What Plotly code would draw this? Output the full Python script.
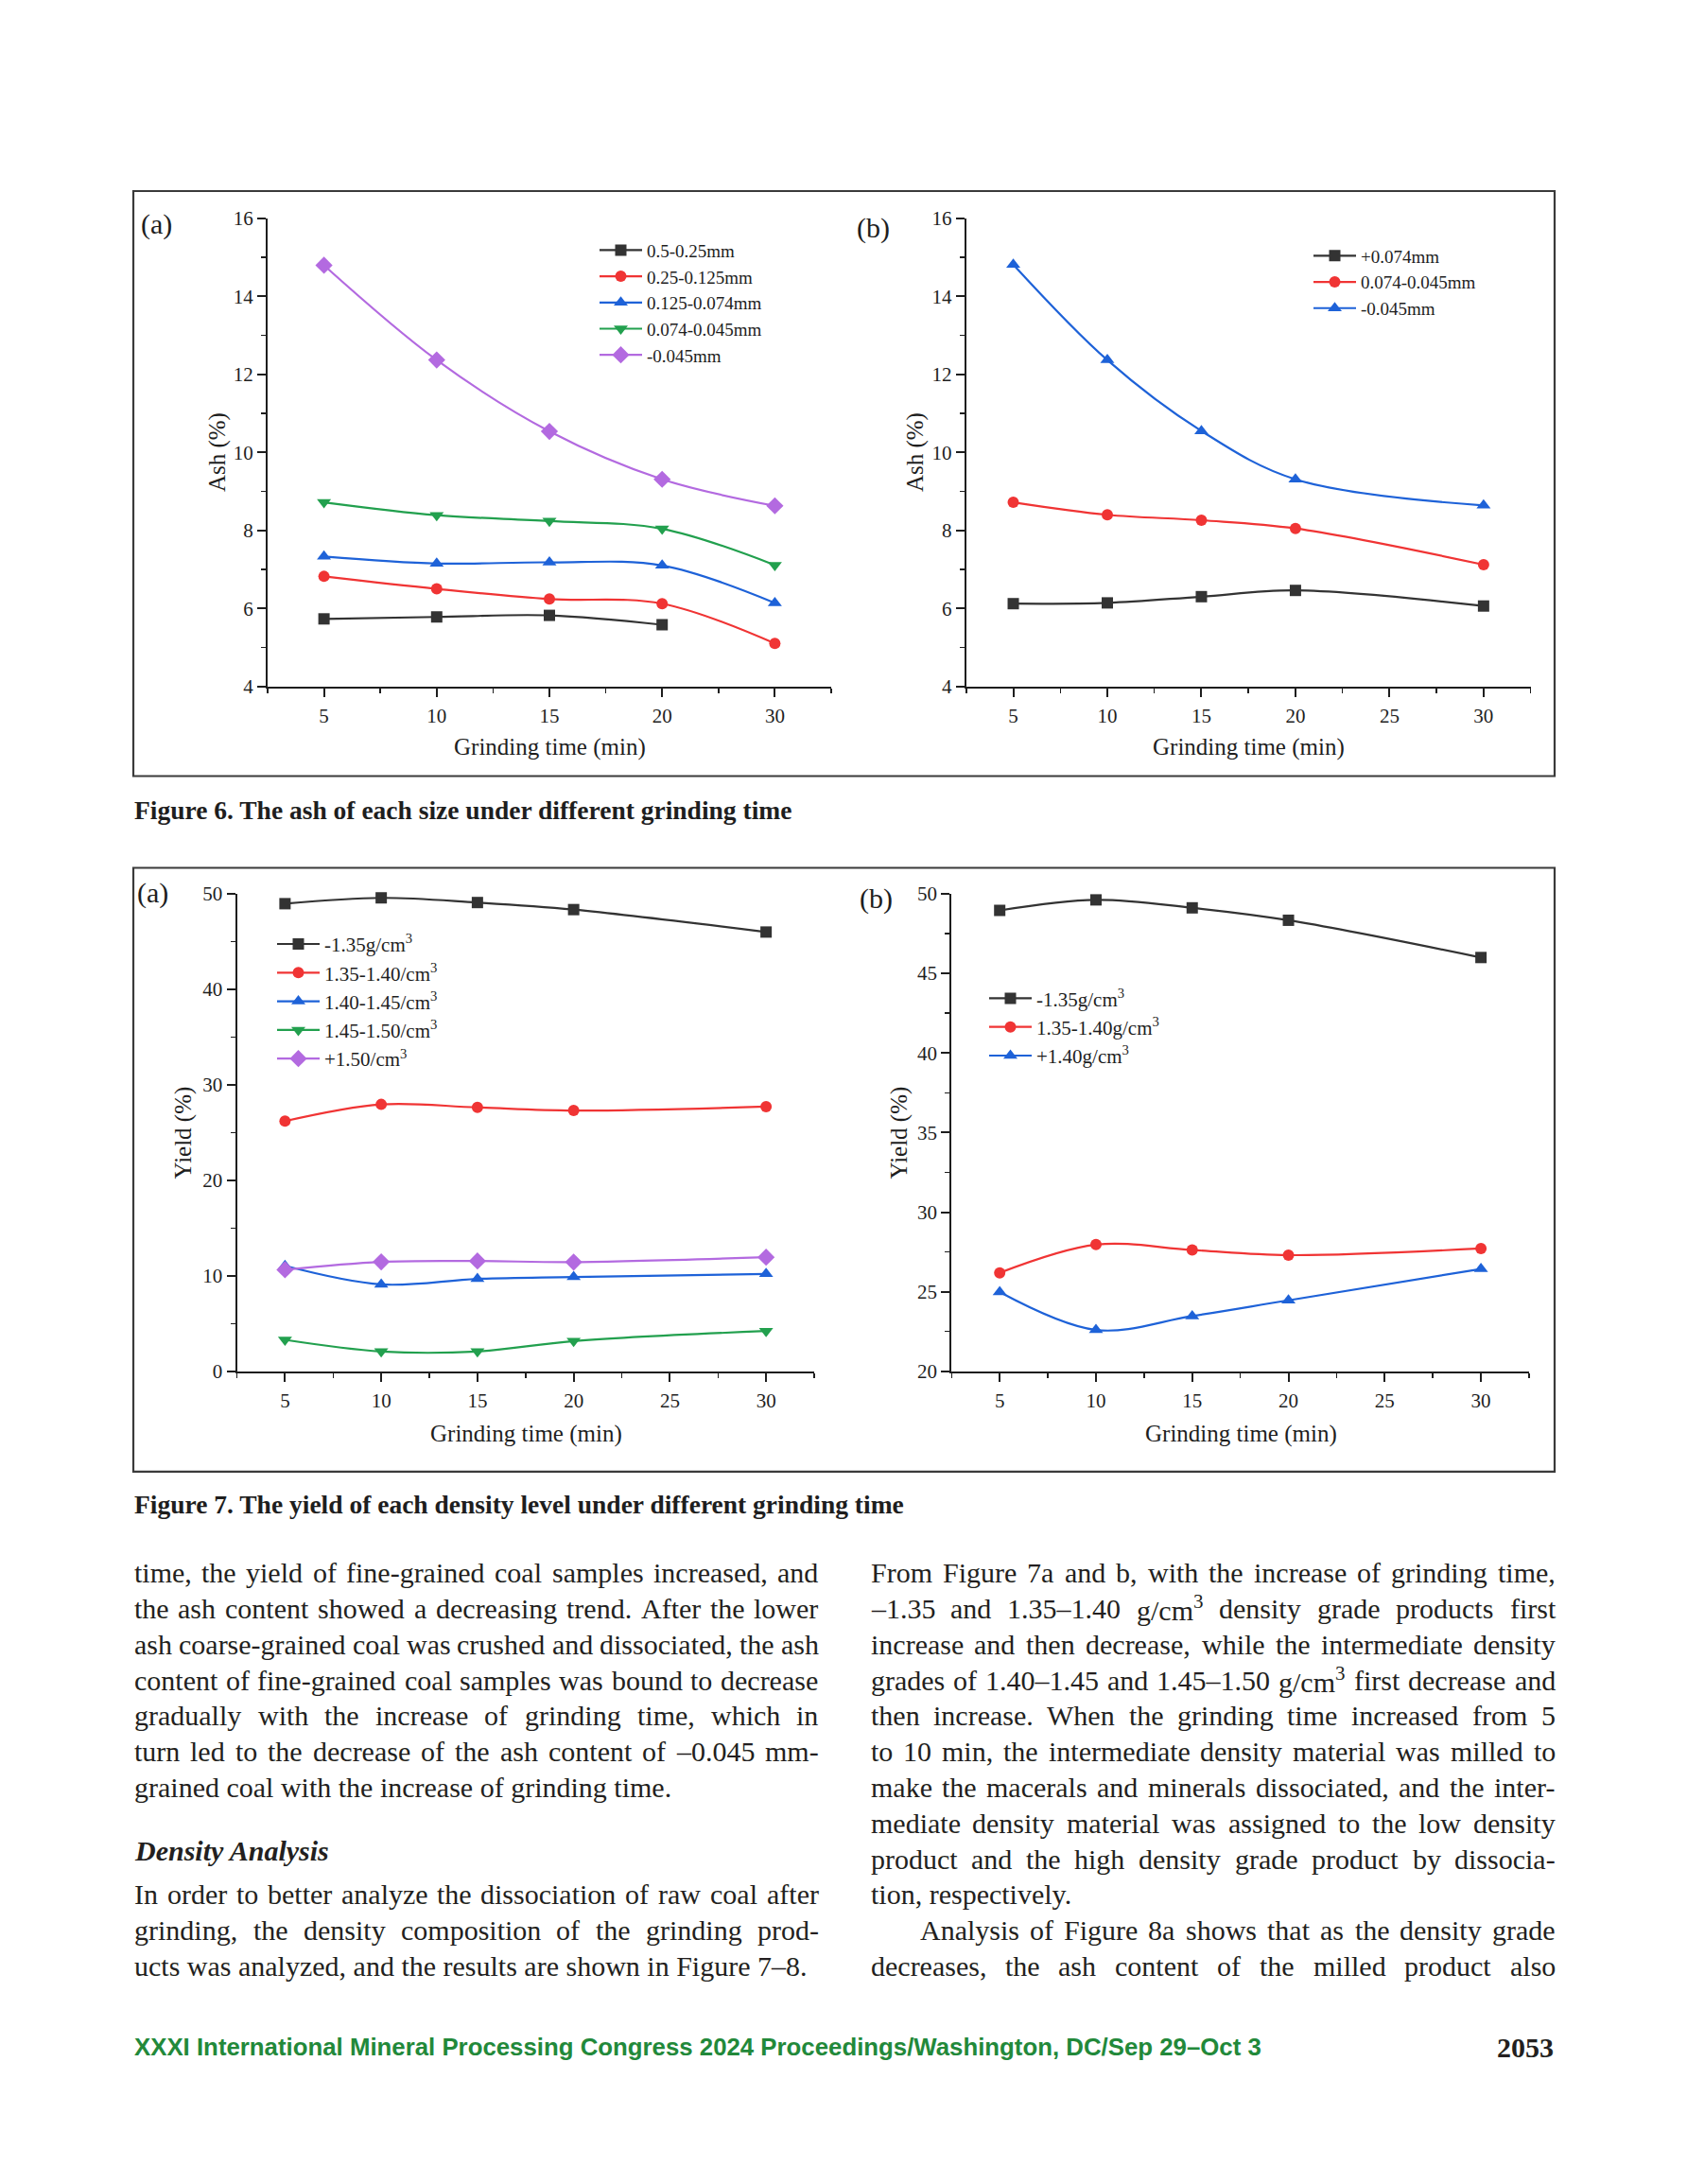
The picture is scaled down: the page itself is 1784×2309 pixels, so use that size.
import plotly.graph_objects as go

W, H = 1784, 2309

# ---------------- data ----------------
time_cat = ['5', '10', '15', '20', '30']      # Fig 6(a) equally spaced categories
time_min = [5, 10, 15, 20, 30]

ash_a_names = ['0.5-0.25mm', '0.25-0.125mm', '0.125-0.074mm', '0.074-0.045mm', '-0.045mm']
ash_a_0500_0250 = [5.73, 5.78, 5.82, 5.58, None]
ash_a_0250_0125 = [6.82, 6.50, 6.24, 6.12, 5.10]
ash_a_0125_0074 = [7.33, 7.15, 7.18, 7.10, 6.14]
ash_a_0074_0045 = [8.72, 8.39, 8.24, 8.04, 7.11]
ash_a_minus0045 = [14.80, 12.37, 10.54, 9.31, 8.63]

ash_b_names = ['+0.074mm', '0.074-0.045mm', '-0.045mm']
ash_b_plus0074 = [6.12, 6.14, 6.30, 6.46, 6.06]
ash_b_0074_0045 = [8.72, 8.40, 8.26, 8.05, 7.12]
ash_b_minus0045 = [14.82, 12.37, 10.55, 9.31, 8.64]

yld_a_names = ['-1.35g/cm<sup>3</sup>', '1.35-1.40/cm<sup>3</sup>', '1.40-1.45/cm<sup>3</sup>',
               '1.45-1.50/cm<sup>3</sup>', '+1.50/cm<sup>3</sup>']
yld_a_m135 = [48.97, 49.58, 49.09, 48.35, 46.0]
yld_a_135_140 = [26.2, 27.95, 27.63, 27.31, 27.72]
yld_a_140_145 = [11.05, 9.1, 9.68, 9.88, 10.2]
yld_a_145_150 = [3.3, 2.08, 2.08, 3.17, 4.22]
yld_a_p150 = [10.64, 11.46, 11.55, 11.44, 11.95]

yld_b_names = ['-1.35g/cm<sup>3</sup>', '1.35-1.40g/cm<sup>3</sup>', '+1.40g/cm<sup>3</sup>']
yld_b_m135 = [48.96, 49.62, 49.12, 48.34, 46.0]
yld_b_135_140 = [26.19, 27.96, 27.62, 27.30, 27.72]
yld_b_p140 = [24.98, 22.6, 23.47, 24.46, 26.43]

# ---------------- styles ----------------
COLORS = ['#333333', '#f03434', '#1e62d8', '#22a04e', '#b36ae0']
SYMBOLS = ['square', 'circle', 'triangle-up', 'triangle-down', 'diamond']
MSIZE = [12, 12, 13, 13, 14]
SERIF = 'Liberation Serif, Times New Roman, serif'
INK = '#1e1e1e'


def px(p):
    return p / W


def py(p):
    return 1 - p / H


fig = go.Figure()


def add_series(xs, ys, name, k, xa, ya, leg):
    fig.add_trace(go.Scatter(
        x=xs, y=ys, name=name, mode='lines+markers',
        line=dict(color=COLORS[k], width=2.2, shape='spline', smoothing=1.0),
        marker=dict(symbol=SYMBOLS[k], size=MSIZE[k], color=COLORS[k], line=dict(width=0)),
        xaxis=xa, yaxis=ya, legend=leg, cliponaxis=False, connectgaps=False,
        hoverinfo='skip'))


idx = list(range(len(time_cat)))
for k, ys in enumerate([ash_a_0500_0250, ash_a_0250_0125, ash_a_0125_0074,
                        ash_a_0074_0045, ash_a_minus0045]):
    add_series(idx, ys, ash_a_names[k], k, 'x', 'y', 'legend')

for k, ys in enumerate([ash_b_plus0074, ash_b_0074_0045, ash_b_minus0045]):
    add_series(time_min, ys, ash_b_names[k], k, 'x2', 'y2', 'legend2')

for k, ys in enumerate([yld_a_m135, yld_a_135_140, yld_a_140_145, yld_a_145_150, yld_a_p150]):
    add_series(time_min, ys, yld_a_names[k], k, 'x3', 'y3', 'legend3')

for k, ys in enumerate([yld_b_m135, yld_b_135_140, yld_b_p140]):
    add_series(time_min, ys, yld_b_names[k], k, 'x4', 'y4', 'legend4')


def axis_common():
    return dict(showline=True, linecolor=INK, linewidth=2, ticks='outside', ticklen=9,
                tickwidth=2, tickcolor=INK, showgrid=False, zeroline=False, mirror=False,
                tickfont=dict(family=SERIF, size=21, color=INK), fixedrange=True)


def xaxis(d0, d1, anchor, **kw):
    a = axis_common()
    a.update(domain=[px(d0), px(d1)], anchor=anchor, ticklabelstandoff=2)
    a.update(kw)
    return a


def yaxis(top, bot, anchor, **kw):
    a = axis_common()
    a.update(domain=[py(bot), py(top)], anchor=anchor)
    a.update(kw)
    return a


minor_x = dict(ticks='outside', ticklen=5, tickwidth=1.5, tickcolor=INK, dtick=2.5, tick0=2.5)

fig.update_layout(
    xaxis=xaxis(283, 879, 'y', range=[-0.5, 4.5], tickmode='array', tickvals=idx, ticktext=time_cat,
                minor=dict(ticks='outside', ticklen=5, tickwidth=1.5, tickcolor=INK,
                           tickmode='array', tickvals=[-0.5, 0.5, 1.5, 2.5, 3.5, 4.5])),
    yaxis=yaxis(221.3, 721.1, 'x', range=[4, 16], dtick=2, tick0=4,
                minor=dict(ticks='outside', ticklen=5, tickwidth=1.5, tickcolor=INK, dtick=1)),
    xaxis2=xaxis(1021.8, 1618.6, 'y2', range=[2.5, 32.5], dtick=5, tick0=5, minor=minor_x),
    yaxis2=yaxis(221.3, 721.1, 'x2', range=[4, 16], dtick=2, tick0=4,
                 minor=dict(ticks='outside', ticklen=5, tickwidth=1.5, tickcolor=INK, dtick=1)),
    xaxis3=xaxis(250.5, 861.0, 'y3', range=[2.5, 32.5], dtick=5, tick0=5, minor=minor_x),
    yaxis3=yaxis(942.8, 1452.9, 'x3', range=[0, 50], dtick=10, tick0=0,
                 minor=dict(ticks='outside', ticklen=5, tickwidth=1.5, tickcolor=INK, dtick=5)),
    xaxis4=xaxis(1006.3, 1617.0, 'y4', range=[2.5, 32.5], dtick=5, tick0=5, minor=minor_x),
    yaxis4=yaxis(942.8, 1452.9, 'x4', range=[20, 50], dtick=5, tick0=20,
                 minor=dict(ticks='outside', ticklen=5, tickwidth=1.5, tickcolor=INK, dtick=2.5)),
)


def legend_at(x, y, size):
    return dict(x=px(x), y=py(y), xanchor='left', yanchor='top', bgcolor='rgba(0,0,0,0)',
                borderwidth=0, itemwidth=45, tracegroupgap=0, itemclick=False,
                font=dict(family=SERIF, size=size, color=INK))


fig.update_layout(
    showlegend=True,
    legend=legend_at(629, 236, 19),
    legend2=legend_at(1384, 242, 19),
    legend3=legend_at(288, 976, 21),
    legend4=legend_at(1041, 1034, 21),
)

# ---------------- frames ----------------
shapes = []
for (x0, y0, x1, y1) in [(141, 192, 1644, 817), (141, 915, 1644, 1560)]:
    shapes.append(dict(type='rect', xref='paper', yref='paper', x0=px(x0), x1=px(x1),
                       y0=py(y1), y1=py(y0), line=dict(color='#3a3a3a', width=2.2),
                       fillcolor='rgba(0,0,0,0)', layer='below'))

ann = []


def text(x, y, s, size, xanchor='center', angle=0, family=SERIF, color=INK, yanchor='middle'):
    ann.append(dict(x=px(x), y=py(y), xref='paper', yref='paper', text=s, showarrow=False,
                    xanchor=xanchor, yanchor=yanchor, textangle=angle, borderpad=0,
                    font=dict(family=family, size=size, color=color)))


# panel letters
text(165, 227, '(a)', 30)
text(923, 231, '(b)', 30)
text(161, 942, '(a)', 30)
text(926, 948, '(b)', 30)

# axis titles
for xc in (581, 1320):
    text(xc, 786, 'Grinding time (min)', 25)
for xc in (230, 968):
    text(xc, 471, 'Ash (%)', 25, angle=-90)
for xc in (556, 1312):
    text(xc, 1520, 'Grinding time (min)', 25)
for xc in (194, 951):
    text(xc, 1198, 'Yield (%)', 25, angle=-90)

# captions
text(141, 853, '<b>Figure 6. The ash of each size under different grinding time</b>', 27.5, xanchor='left')
text(141, 1595, '<b>Figure 7. The yield of each density level under different grinding time</b>', 27.5,
     xanchor='left')

# ---------------- body text (justified) ----------------
TW = {' ': 250, '!': 333, '%': 833, '(': 333, ')': 333, ',': 250, '-': 333, '.': 250, '/': 278,
      ':': 278, ';': 278, '?': 444, '–': 500, '0': 500, '1': 500, '2': 500, '3': 500, '4': 500,
      '5': 500, '6': 500, '7': 500, '8': 500, '9': 500,
      'A': 722, 'B': 667, 'C': 667, 'D': 722, 'E': 611, 'F': 556, 'G': 722, 'H': 722, 'I': 333,
      'J': 389, 'K': 722, 'L': 611, 'M': 889, 'N': 722, 'O': 722, 'P': 556, 'Q': 722, 'R': 667,
      'S': 556, 'T': 611, 'U': 722, 'V': 722, 'W': 944, 'X': 722, 'Y': 722, 'Z': 611,
      'a': 444, 'b': 500, 'c': 444, 'd': 500, 'e': 444, 'f': 333, 'g': 500, 'h': 500, 'i': 278,
      'j': 278, 'k': 500, 'l': 278, 'm': 778, 'n': 500, 'o': 500, 'p': 500, 'q': 500, 'r': 333,
      's': 389, 't': 278, 'u': 500, 'v': 500, 'w': 722, 'x': 500, 'y': 500, 'z': 444}


def wem(s):
    tot, sup, i = 0.0, False, 0
    while i < len(s):
        if s.startswith('<sup>', i):
            sup, i = True, i + 5
            continue
        if s.startswith('</sup>', i):
            sup, i = False, i + 6
            continue
        tot += TW.get(s[i], 500) / 1000 * (0.7 if sup else 1.0)
        i += 1
    return tot


left_par1 = [
    'time, the yield of fine-grained coal samples increased, and',
    'the ash content showed a decreasing trend. After the lower',
    'ash coarse-grained coal was crushed and dissociated, the ash',
    'content of fine-grained coal samples was bound to decrease',
    'gradually with the increase of grinding time, which in',
    'turn led to the decrease of the ash content of –0.045 mm-',
    'grained coal with the increase of grinding time.',
]
left_par2 = [
    'In order to better analyze the dissociation of raw coal after',
    'grinding, the density composition of the grinding prod-',
    'ucts was analyzed, and the results are shown in Figure 7–8.',
]
right_lines = [
    'From Figure 7a and b, with the increase of grinding time,',
    '–1.35 and 1.35–1.40 g/cm<sup>3</sup> density grade products first',
    'increase and then decrease, while the intermediate density',
    'grades of 1.40–1.45 and 1.45–1.50 g/cm<sup>3</sup> first decrease and',
    'then increase. When the grinding time increased from 5',
    'to 10 min, the intermediate density material was milled to',
    'make the macerals and minerals dissociated, and the inter-',
    'mediate density material was assigned to the low density',
    'product and the high density grade product by dissocia-',
    'tion, respectively.',
    'Analysis of Figure 8a shows that as the density grade',
    'decreases, the ash content of the milled product also',
]

LX0, LX1 = 141.0, 864.5
RX0, RX1 = 919.5, 1644.0
PITCH = 38.2
Y0 = 1668.0
INDENT = 52

# (text, x0, x1, y, justify)
layout_lines = []
for i, s in enumerate(left_par1):
    layout_lines.append((s, LX0, LX1, Y0 + i * PITCH, i < len(left_par1) - 1))
for i, s in enumerate(left_par2):
    layout_lines.append((s, LX0, LX1, 2011.5 + i * PITCH, i < len(left_par2) - 1))
for i, s in enumerate(right_lines):
    x0 = RX0 + (INDENT if i == 10 else 0)
    layout_lines.append((s, x0, RX1, Y0 + i * PITCH, i != 9))

# font size so every justified line fits with a minimum word gap
F = 30.0
for s, x0, x1, y, j in layout_lines:
    if j:
        words = s.split(' ')
        need = sum(wem(w) for w in words) + 0.17 * (len(words) - 1)
        F = min(F, (x1 - x0) / need)

BODY = '#231f20'
for s, x0, x1, y, j in layout_lines:
    if not j:
        text(x0, y, s, F, xanchor='left', color=BODY)
        continue
    words = s.split(' ')
    widths = [wem(w) * F for w in words]
    gap = (x1 - x0 - sum(widths)) / (len(words) - 1)
    x = x0
    for w, wd in zip(words, widths):
        text(x, y, w, F, xanchor='left', color=BODY)
        x += wd + gap

text(LX0, 1965, '<b><i>Density Analysis</i></b>', F, xanchor='left', color=BODY)

# footer
text(141, 2175, '<b>XXXI International Mineral Processing Congress 2024 Proceedings/Washington, DC/Sep 29–Oct 3</b>',
     25.8, xanchor='left', family='Liberation Sans, Arial, sans-serif', color='#22893a')
text(1644, 2175, '<b>2053</b>', 30, xanchor='right', color=BODY)

fig.update_layout(
    width=W, height=H, margin=dict(l=0, r=0, t=0, b=0),
    paper_bgcolor='white', plot_bgcolor='white',
    shapes=shapes, annotations=ann,
    font=dict(family=SERIF, color=INK),
)

fig.write_html('out.html', config={'displayModeBar': False, 'staticPlot': True},
               post_script="document.body.style.margin='0';document.body.style.overflow='hidden';")
